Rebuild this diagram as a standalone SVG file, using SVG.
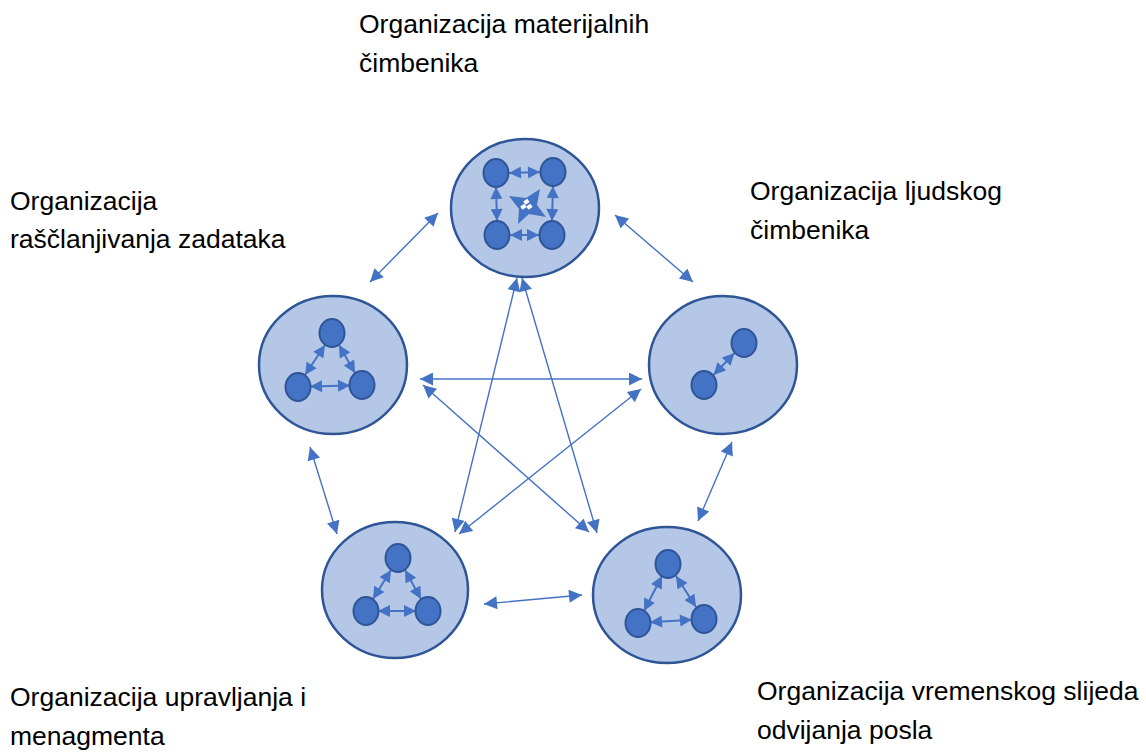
<svg xmlns="http://www.w3.org/2000/svg" width="1146" height="754" viewBox="0 0 1146 754">
<style>
.lbl{font-family:"Liberation Sans",Arial,sans-serif;font-size:26.5px;fill:#000}
.big{fill:#B4C7E7;stroke:#2F5597;stroke-width:2.5}
.dot{fill:#4472C4;stroke:#2F5597;stroke-width:2}
.con{stroke:#4472C4;stroke-width:1.4;fill:none;marker-start:url(#ah);marker-end:url(#ah)}
.ic{stroke:#4472C4;stroke-width:2;fill:none;marker-start:url(#ai);marker-end:url(#ai)}
</style>
<defs>
<marker id="ah" viewBox="0 0 10 10" refX="10" refY="5" markerWidth="15" markerHeight="13" markerUnits="userSpaceOnUse" orient="auto-start-reverse"><path d="M0,0 L10,5 L0,10 z" fill="#4472C4"/></marker>
<marker id="ai" viewBox="0 0 10 10" refX="10" refY="5" markerWidth="13" markerHeight="12" markerUnits="userSpaceOnUse" orient="auto-start-reverse"><path d="M0,0 L10,5 L0,10 z" fill="#4472C4"/></marker>
</defs>
<rect width="1146" height="754" fill="#fff"/>

<g id="connectors">
<line class="con" x1="438" y1="213" x2="370" y2="282"/>
<line class="con" x1="615" y1="215" x2="693" y2="282"/>
<line class="con" x1="310" y1="447" x2="337" y2="534"/>
<line class="con" x1="732" y1="442" x2="698" y2="521"/>
<line class="con" x1="484" y1="604" x2="582" y2="595"/>
<line class="con" x1="420" y1="379" x2="642" y2="379"/>
<line class="con" x1="517" y1="278" x2="455" y2="532"/>
<line class="con" x1="522" y1="278" x2="597" y2="533"/>
<line class="con" x1="423" y1="385" x2="589" y2="532"/>
<line class="con" x1="641" y1="389" x2="459" y2="534"/>
</g>

<g id="node-top">
<ellipse class="big" cx="525" cy="208" rx="74" ry="69"/>
<line class="ic" x1="509" y1="173" x2="540" y2="172"/>
<line class="ic" x1="510" y1="235" x2="539" y2="235"/>
<line class="ic" x1="496" y1="187" x2="497" y2="221"/>
<line class="ic" x1="553" y1="186" x2="552" y2="221"/>
<ellipse class="dot" cx="496" cy="173" rx="12.5" ry="14"/>
<ellipse class="dot" cx="553" cy="172" rx="12.5" ry="14"/>
<ellipse class="dot" cx="497" cy="235" rx="12.5" ry="14"/>
<ellipse class="dot" cx="552" cy="235" rx="12.5" ry="14"/>
<polygon points="540,189 537,205 546,217 529,214 518,224 519,209 509,196 526,198" fill="#4472C4"/>
<rect x="524" y="200" width="5" height="4" fill="#fff" transform="rotate(-35 526 202)"/>
<rect x="521" y="205" width="5" height="4" fill="#fff" transform="rotate(-35 523 207)"/>
<rect x="527" y="205" width="5" height="4" fill="#fff" transform="rotate(-35 529 207)"/>
</g>

<g id="node-left">
<ellipse class="big" cx="333" cy="365" rx="74" ry="69"/>
<line class="ic" x1="325" y1="345" x2="305" y2="375"/>
<line class="ic" x1="339" y1="345" x2="355" y2="373"/>
<line class="ic" x1="310" y1="386.6" x2="350" y2="385.4"/>
<ellipse class="dot" cx="332" cy="333" rx="12.5" ry="14"/>
<ellipse class="dot" cx="298" cy="387" rx="12.5" ry="14"/>
<ellipse class="dot" cx="362" cy="385" rx="12.5" ry="14"/>
</g>

<g id="node-right">
<ellipse class="big" cx="723" cy="365" rx="74" ry="69"/>
<line class="ic" x1="734.5" y1="353" x2="713.5" y2="375"/>
<ellipse class="dot" cx="744" cy="343" rx="12.5" ry="14"/>
<ellipse class="dot" cx="704" cy="385" rx="12.5" ry="14"/>
</g>

<g id="node-bottom-left">
<ellipse class="big" cx="395" cy="590" rx="73" ry="68"/>
<line class="ic" x1="391" y1="570" x2="373" y2="599"/>
<line class="ic" x1="405" y1="570" x2="421" y2="599"/>
<line class="ic" x1="378" y1="611" x2="416" y2="611"/>
<ellipse class="dot" cx="398" cy="558" rx="12.5" ry="14"/>
<ellipse class="dot" cx="366" cy="611" rx="12.5" ry="14"/>
<ellipse class="dot" cx="428" cy="611" rx="12.5" ry="14"/>
</g>

<g id="node-bottom-right">
<ellipse class="big" cx="667" cy="595" rx="74" ry="68"/>
<line class="ic" x1="662" y1="576" x2="644" y2="611"/>
<line class="ic" x1="676" y1="576" x2="696" y2="607"/>
<line class="ic" x1="650" y1="622.3" x2="692" y2="619.7"/>
<ellipse class="dot" cx="668" cy="564" rx="12.5" ry="14"/>
<ellipse class="dot" cx="638" cy="623" rx="12.5" ry="14"/>
<ellipse class="dot" cx="704" cy="619" rx="12.5" ry="14"/>
</g>

<g id="labels">
<text class="lbl" x="359" y="33">Organizacija materijalnih</text>
<text class="lbl" x="359" y="72">čimbenika</text>
<text class="lbl" x="10" y="210">Organizacija</text>
<text class="lbl" x="10" y="248">raščlanjivanja zadataka</text>
<text class="lbl" x="750" y="200">Organizacija ljudskog</text>
<text class="lbl" x="750" y="239">čimbenika</text>
<text class="lbl" x="10" y="706">Organizacija upravljanja i</text>
<text class="lbl" x="10" y="745">menagmenta</text>
<text class="lbl" x="757" y="700">Organizacija vremenskog slijeda</text>
<text class="lbl" x="757" y="739">odvijanja posla</text>
</g>
</svg>
